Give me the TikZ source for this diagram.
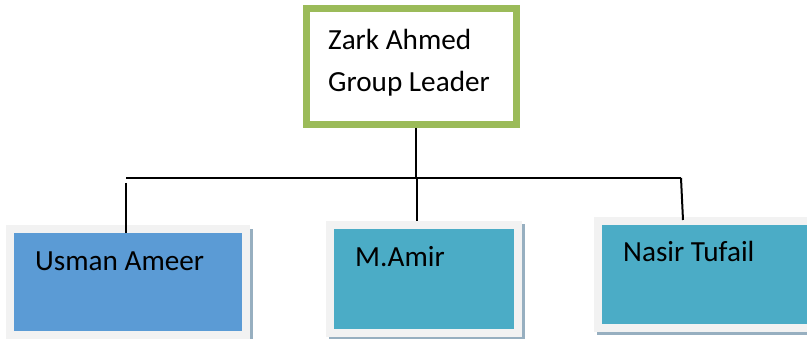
\documentclass[tikz,border=0pt]{standalone}
\usepackage{fontspec}
\setmainfont{Carlito}
\definecolor{leadgreen}{HTML}{9BBB59}
\definecolor{boxblue}{HTML}{5B9BD5}
\definecolor{boxteal}{HTML}{4BACC6}
\definecolor{rimgray}{HTML}{F2F2F2}
\definecolor{shadegray}{HTML}{97AFC0}
\tikzset{
  leadbox/.style={draw=leadgreen, line width=7pt, fill=white, inner sep=0pt},
  memberbox/.style={draw=rimgray, line width=8pt, inner sep=0pt},
  shadebox/.style={fill=shadegray, draw=none, inner sep=0pt},
  label/.style={anchor=base west, inner sep=0pt, font=\fontsize{29.2}{34}\selectfont},
  conn/.style={draw=black, line width=2pt}
}
\begin{document}
\begin{tikzpicture}[x=1pt,y=-1pt]
\useasboundingbox (0,0) rectangle (807,339);
\clip (0,0) rectangle (807,339);
% lead box
\node[leadbox, minimum width=210.5pt, minimum height=116pt] (top) at (411.25,66.5) {};
\node[label] (t1) at (328,50) {Zark Ahmed};
\node[label] (t2) at (328,92) {Group Leader};
% shadows
\node[shadebox, minimum width=244pt, minimum height=114pt] (s1) at (131,286) {};
\node[shadebox, minimum width=196pt, minimum height=116pt] (s2) at (427,282) {};
\node[shadebox, minimum width=240pt, minimum height=115pt] (s3) at (717,278) {};
% member boxes
\node[memberbox, fill=boxblue, minimum width=236pt, minimum height=106pt] (b1) at (128,282) {};
\node[memberbox, fill=boxteal, minimum width=188pt, minimum height=108pt] (b2) at (424,279) {};
\node[memberbox, fill=boxteal, minimum width=232pt, minimum height=107.5pt] (b3) at (714,274.75) {};
\node[label] (u1) at (35,271) {Usman Ameer};
\node[label] (u2) at (355,267) {M.Amir};
\node[label] (u3) at (623,262) {Nasir Tufail};
% connectors
\coordinate (jc) at (416,178);
\coordinate (jl) at (126,178);
\coordinate (jm) at (417,178);
\coordinate (jr) at (681,178);
\coordinate (er) at (683,220);
\draw[conn] (top.south -| jc) -- (jc);
\draw[conn] (jl) -- (jr);
\draw[conn] (jl |- 0,183) -- (jl |- 0,233);
\draw[conn] (jm) -- (jm |- b2.north);
\draw[conn] (jr) -- (er);
\end{tikzpicture}
\end{document}
